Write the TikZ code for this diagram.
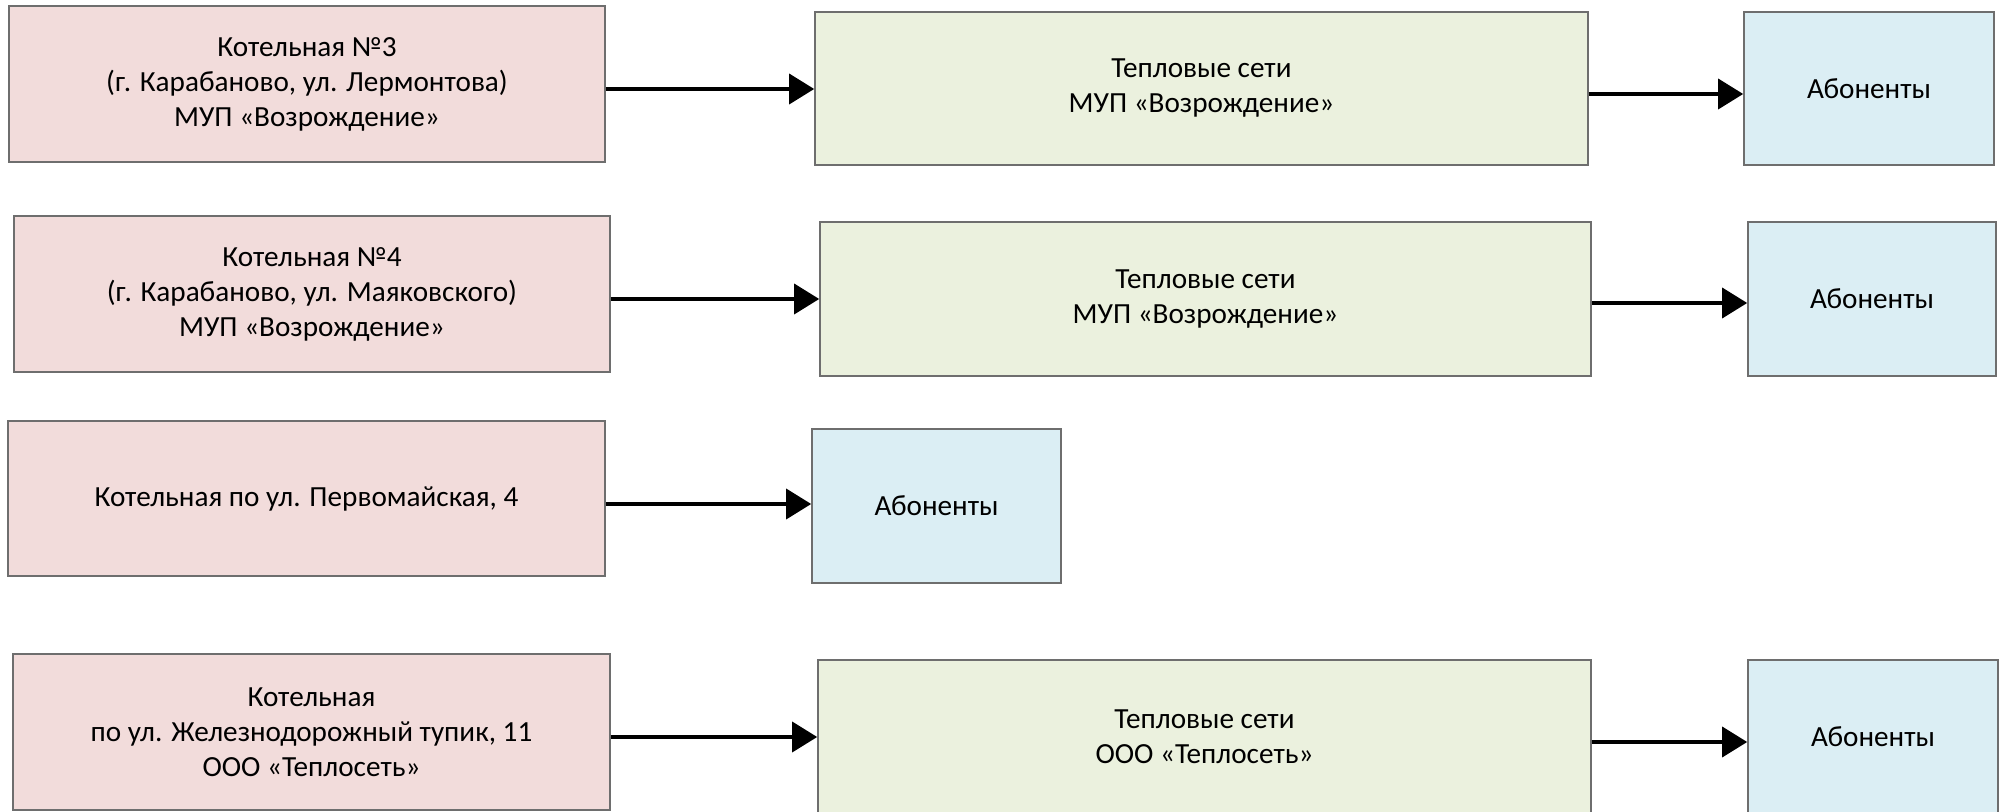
\documentclass[tikz,border=0pt]{standalone}
\usepackage{fontspec}
\setmainfont{Carlito}
\usetikzlibrary{arrows.meta}
\definecolor{pinkfill}{HTML}{F2DCDB}
\definecolor{greenfill}{HTML}{EBF1DE}
\definecolor{bluefill}{HTML}{DBEEF4}
\definecolor{edge}{HTML}{6E6E6E}
\begin{document}
\begin{tikzpicture}[x=0.5pt,y=-0.5pt,
  box/.style={draw=edge, line width=0.8pt, inner sep=0pt, align=center,
    font=\fontsize{14.6}{17.5}\selectfont},
  pinkbox/.style={box, fill=pinkfill},
  greenbox/.style={box, fill=greenfill},
  bluebox/.style={box, fill=bluefill},
  arr/.style={line width=1.75pt, -{Triangle[length=12.5pt,width=15pt]}}]
\useasboundingbox (0,0) rectangle (2004,812);
\begin{scope}
\clip (0,0) rectangle (2004,812);
% row 1
\node[pinkbox, minimum width=298pt, minimum height=78pt] (A1) at (307,84)
  {Котельная №3\\(г. Карабаново, ул. Лермонтова)\\МУП «Возрождение»};
\node[greenbox, minimum width=386.5pt, minimum height=76.5pt] (B1) at (1201.5,88.5)
  {Тепловые сети\\МУП «Возрождение»};
\node[bluebox, minimum width=125pt, minimum height=76.5pt] (C1) at (1869,88.5)
  {Абоненты};
% row 2
\node[pinkbox, minimum width=298pt, minimum height=78pt] (A2) at (312,294)
  {Котельная №4\\(г. Карабаново, ул. Маяковского)\\МУП «Возрождение»};
\node[greenbox, minimum width=385.5pt, minimum height=77pt] (B2) at (1205.5,299)
  {Тепловые сети\\МУП «Возрождение»};
\node[bluebox, minimum width=124pt, minimum height=77pt] (C2) at (1872,299)
  {Абоненты};
% row 3
\node[pinkbox, minimum width=298.5pt, minimum height=77.5pt] (A3) at (306.5,498.5)
  {Котельная по ул. Первомайская, 4};
\node[bluebox, minimum width=124.5pt, minimum height=77pt] (C3) at (936.5,506)
  {Абоненты};
% row 4
\node[pinkbox, minimum width=298.5pt, minimum height=78pt] (A4) at (311.5,732)
  {Котельная\\по ул. Железнодорожный тупик, 11\\ООО «Теплосеть»};
\node[greenbox, minimum width=386.5pt, minimum height=76.5pt] (B4) at (1204.5,736.5)
  {Тепловые сети\\ООО «Теплосеть»};
\node[bluebox, minimum width=125pt, minimum height=76.5pt] (C4) at (1873,736.5)
  {Абоненты};
% arrows
\draw[arr] (A1.east |- 0,89) -- (B1.west |- 0,89);
\draw[arr] (B1.east |- 0,94) -- (C1.west |- 0,94);
\draw[arr] (A2.east |- 0,299) -- (B2.west |- 0,299);
\draw[arr] (B2.east |- 0,303) -- (C2.west |- 0,303);
\draw[arr] (A3.east |- 0,504) -- (C3.west |- 0,504);
\draw[arr] (A4.east |- 0,737) -- (B4.west |- 0,737);
\draw[arr] (B4.east |- 0,742) -- (C4.west |- 0,742);
\end{scope}
\end{tikzpicture}
\end{document}
